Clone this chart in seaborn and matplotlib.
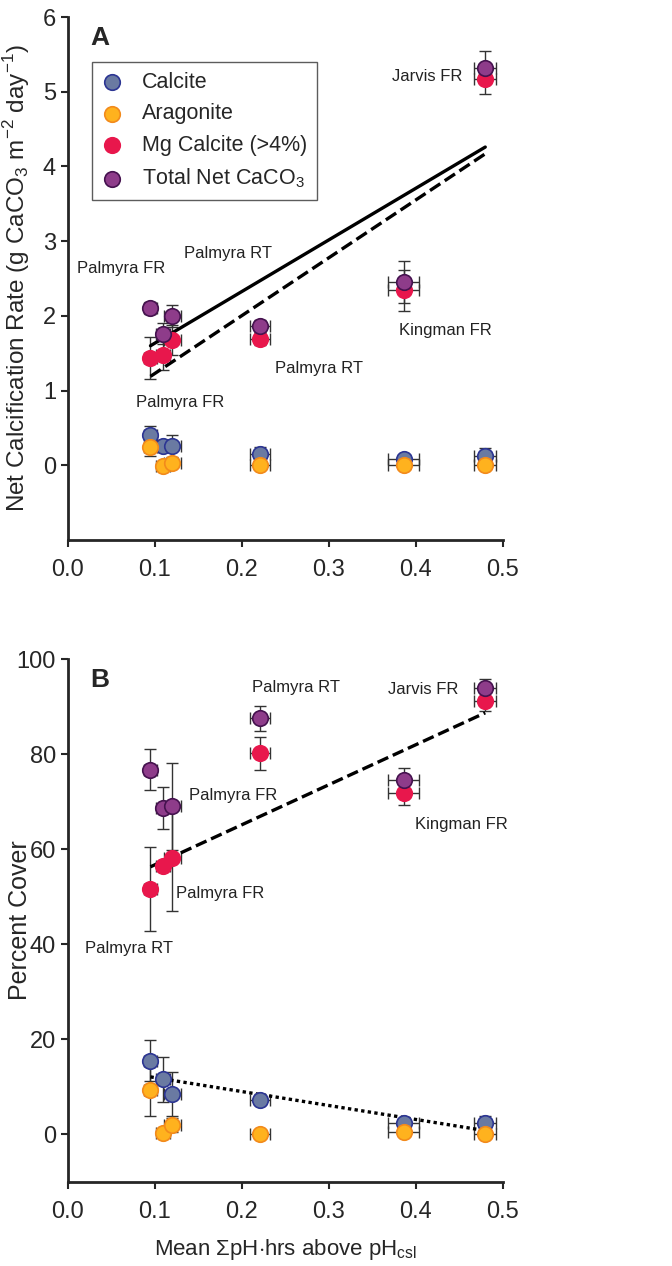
import matplotlib
matplotlib.use('Agg')
import matplotlib.pyplot as plt
import pandas as pd
import seaborn as sns

sns.set_style('ticks')
plt.rcParams['font.family'] = ['Liberation Sans', 'DejaVu Sans']
plt.rcParams['mathtext.fontset'] = 'custom'
plt.rcParams['mathtext.rm'] = 'Liberation Sans'

# mean sum pH hours above pH_csl at each site
site_x = [0.095, 0.109, 0.12, 0.221, 0.386, 0.48]
site_xerr = [0.008, 0.008, 0.01, 0.011, 0.018, 0.0125]

series = ['Calcite', 'Aragonite', 'Mg Calcite (>4%)', 'Total Net CaCO$_3$']
fill_colors = ['#6a7aa2', '#ffb21e', '#e8174c', '#8e3c8a']
edge_colors = ['#2c3593', '#f28a1c', '#e8174c', '#45124f']

# panel A: net calcification rate
rate_calcite = [0.40, 0.26, 0.26, 0.15, 0.08, 0.13]
rate_calcite_err = [0.12, 0.08, 0.15, 0.1, 0.05, 0.1]
rate_aragonite = [0.25, -0.01, 0.03, 0.0, 0.0, 0.0]
rate_aragonite_err = [0.12, 0.03, 0.03, 0.0, 0.0, 0.0]
rate_mg = [1.44, 1.47, 1.68, 1.69, 2.34, 5.17]
rate_mg_err = [0.28, 0.2, 0.2, 0.08, 0.27, 0.2]
rate_total = [2.10, 1.76, 2.00, 1.86, 2.45, 5.32]
rate_total_err = [0.08, 0.14, 0.15, 0.08, 0.28, 0.22]

# panel B: percent cover
cover_calcite = [15.5, 11.6, 8.5, 7.3, 2.3, 2.4]
cover_calcite_err = [4.3, 4.7, 4.6, 1.2, 1.0, 1.5]
cover_aragonite = [9.4, 0.2, 2.0, 0.0, 0.5, 0.0]
cover_aragonite_err = [5.6, 0.0, 1.5, 0.0, 0.0, 0.0]
cover_mg = [51.6, 56.5, 58.1, 80.2, 71.8, 91.2]
cover_mg_err = [8.8, 1.0, 11.0, 3.5, 2.6, 2.2]
cover_total = [76.7, 68.6, 69.0, 87.5, 74.6, 93.9]
cover_total_err = [4.3, 4.4, 9.2, 2.7, 2.5, 2.0]

# regression lines (end points at the site range)
fit_x = [0.095, 0.48]
fit_rate_total = [1.60, 4.26]
fit_rate_mg = [1.19, 4.17]
fit_cover_mg = [56.3, 88.7]
fit_cover_calcite = [12.1, 0.8]

labels_a = [('Jarvis FR', 0.413, 5.21), ('Palmyra RT', 0.184, 2.83), ('Palmyra FR', 0.061, 2.64),
            ('Kingman FR', 0.434, 1.80), ('Palmyra RT', 0.289, 1.30), ('Palmyra FR', 0.129, 0.84)]
labels_b = [('Palmyra RT', 0.262, 94.1), ('Jarvis FR', 0.409, 93.5), ('Palmyra FR', 0.190, 71.3),
            ('Kingman FR', 0.453, 65.1), ('Palmyra FR', 0.175, 50.7), ('Palmyra RT', 0.0705, 39.2)]

tick_font = ['Liberation Sans Narrow', 'Liberation Sans']


def draw_panel(ax, values, errors, fits, labels, letter):
    for vals, errs in zip(values, errors):
        ax.errorbar(site_x, vals, xerr=site_xerr, yerr=errs, fmt='none', ecolor='#333333',
                    elinewidth=1, capsize=4, capthick=1, zorder=2)
    for fy, style in fits:
        sns.lineplot(x=fit_x, y=fy, ax=ax, color='black', linestyle=style, linewidth=2.4, zorder=3)
    for i, vals in enumerate(values):
        df = pd.DataFrame({'x': site_x, 'y': vals})
        sns.scatterplot(data=df, x='x', y='y', ax=ax, s=125, color=fill_colors[i],
                        edgecolor=edge_colors[i], linewidth=1.2, zorder=4, label=series[i])
    for txt, lx, ly in labels:
        ax.text(lx, ly, txt, ha='center', va='center', fontsize=12, color='#222222')
    lo, hi = ax.get_ylim()
    ax.text(0.037, hi - (hi - lo) * 0.04, letter, fontsize=19, fontweight='bold',
            ha='center', va='center')
    sns.despine(ax=ax)
    ax.spines['left'].set_linewidth(2)
    ax.spines['bottom'].set_linewidth(2)
    ax.tick_params(width=1.5, length=5, labelsize=17)
    ax.tick_params(axis='x', pad=9)
    ax.set_xlim(0, 0.5)
    ax.set_xticks([0.0, 0.1, 0.2, 0.3, 0.4, 0.5])
    ax.set_xticklabels(['0.0', '0.1', '0.2', '0.3', '0.4', '0.5'], fontfamily=tick_font, fontsize=17)
    ax.yaxis.set_label_coords(-0.083, 0.5)


fig = plt.figure(figsize=(6.72, 12.66), dpi=100)
ax_a = fig.add_axes([0.101, 0.5735, 0.647, 0.413])
ax_b = fig.add_axes([0.101, 0.0664, 0.647, 0.413])

ax_a.set_ylim(-1, 6)
ax_a.set_yticks([0, 1, 2, 3, 4, 5, 6])
ax_a.set_yticklabels(['0', '1', '2', '3', '4', '5', '6'], fontfamily=tick_font, fontsize=17)
draw_panel(ax_a,
           [rate_calcite, rate_aragonite, rate_mg, rate_total],
           [rate_calcite_err, rate_aragonite_err, rate_mg_err, rate_total_err],
           [(fit_rate_total, '-'), (fit_rate_mg, '--')], labels_a, 'A')
ax_a.set_ylabel('Net Calcification Rate (g CaCO$_3$ m$^{-2}$ day$^{-1}$)', fontsize=17.5)
ax_a.set_xlabel('')
leg = ax_a.legend(loc='upper left', bbox_to_anchor=(0.03, 0.935), fontsize=15.5, frameon=True,
                  fancybox=False, edgecolor='#333333', handlelength=1.0, handletextpad=0.9,
                  borderpad=0.45, labelspacing=0.5)
leg.get_frame().set_linewidth(1)
for t in leg.get_texts():
    t.set_fontfamily(tick_font)

ax_b.set_ylim(-10, 100)
ax_b.set_yticks([0, 20, 40, 60, 80, 100])
ax_b.set_yticklabels(['0', '20', '40', '60', '80', '100'], fontfamily=tick_font, fontsize=17)
draw_panel(ax_b,
           [cover_calcite, cover_aragonite, cover_mg, cover_total],
           [cover_calcite_err, cover_aragonite_err, cover_mg_err, cover_total_err],
           [(fit_cover_mg, (0, (3.5, 1.5))), (fit_cover_calcite, (0, (1, 1)))], labels_b, 'B')
ax_b.get_legend().remove()
ax_b.set_ylabel('Percent Cover', fontsize=18)
ax_b.set_xlabel(r'Mean $\Sigma$pH$\cdot$hrs above pH$_{\rm csl}$', fontsize=16, labelpad=10)

fig.savefig('out.png', dpi=100)
